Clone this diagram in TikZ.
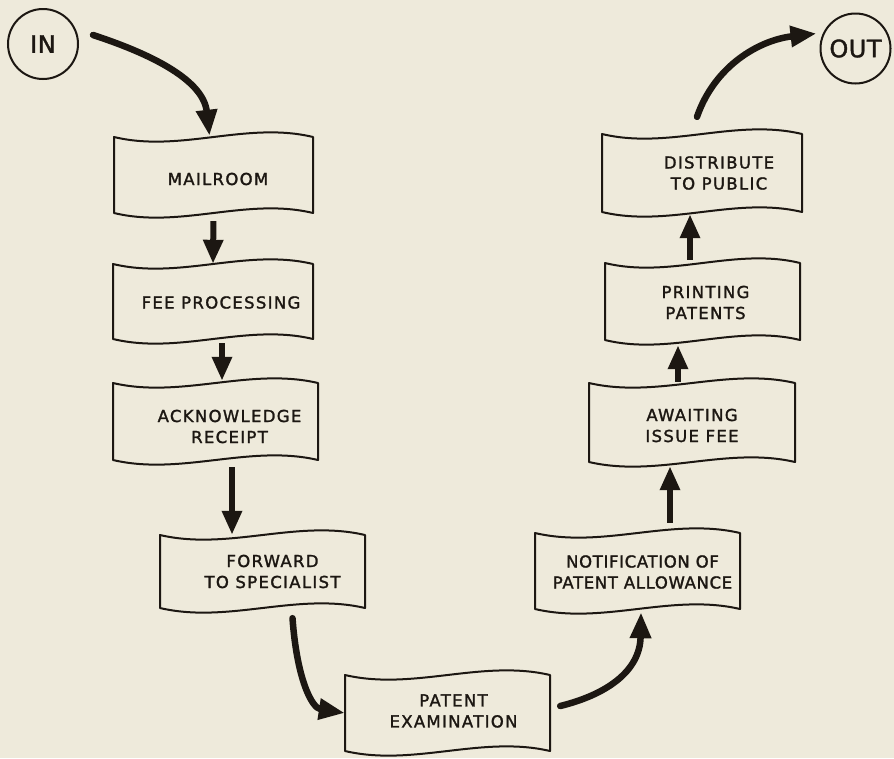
\documentclass[tikz,border=0pt]{standalone}
\usepackage{fontspec}
\setmainfont{DejaVu Sans}[LetterSpace=8,FakeBold=1.6]
\usetikzlibrary{arrows.meta,calc}
\definecolor{paper}{RGB}{238,234,219}
\definecolor{ink}{RGB}{28,23,18}
\newcommand\wbox[5]{%
  \pgfmathsetmacro\wbXa{#2+(#4-#2)/3}%
  \pgfmathsetmacro\wbXb{#2+2*(#4-#2)/3}%
  \pgfmathsetmacro\wbW{#4-#2}%
  \pgfmathsetmacro\wbH{#5-#3}%
  \draw[boxline] (#2,#3) .. controls (\wbXa,#3+16) and (\wbXb,#3-16) .. (#4,#3)
    -- (#4,#5) .. controls (\wbXb,#5-16) and (\wbXa,#5+16) .. (#2,#5) -- cycle;
  \node[boxnode, minimum width=\wbW pt, minimum height=\wbH pt] (#1) at ({(#2+#4)/2},{(#3+#5)/2}) {};
}
\begin{document}
\begin{tikzpicture}[x=1pt,y=-1pt,
  boxline/.style={draw=ink, line width=2pt, line join=round},
  boxnode/.style={rectangle, draw=none, inner sep=0pt},
  boxtext/.style={text=ink, font=\fontsize{16.5}{21}\selectfont, align=center, inner sep=0pt},
  termnode/.style={circle, draw=ink, line width=2pt, minimum size=70pt, inner sep=0pt,
    font=\fontsize{24}{28}\selectfont\addfontfeature{LetterSpace=2}, text=ink},
  flow/.style={draw=ink, line width=6pt, -{Triangle[length=24pt,width=19pt]}},
  cflow/.style={draw=ink, line width=6.5pt, line cap=round, -{Triangle[length=26pt,width=20pt]}}
]
\fill[paper] (0,0) rectangle (894,758);
\useasboundingbox (0,0) rectangle (894,758);

% terminals
\node[termnode] (in) at (43,44) {IN};
\node[termnode] (out) at (855.5,48.5) {OUT};

% boxes
\wbox{mail}{114}{137}{313}{213}
\wbox{fee}{113}{264}{313}{339}
\wbox{ack}{113}{383}{318}{460}
\wbox{fwd}{160}{535}{365}{608}
\wbox{exam}{345}{675}{550}{751}
\wbox{notif}{535}{533}{740}{609}
\wbox{await}{589}{383}{795}{462}
\wbox{print}{605}{263}{800}{340}
\wbox{dist}{602}{134}{802}{212}

% labels
\node[boxtext] (mailtxt) at ($(mail)+(4.5,4)$) {MAILROOM};
\node[boxtext] (feetxt) at ($(fee)+(8,1)$) {FEE PROCESSING};
\node[boxtext] (acktxt) at ($(ack)+(14,5)$) {ACKNOWLEDGE\\RECEIPT};
\node[boxtext] (fwdtxt) at ($(fwd)+(10,0)$) {FORWARD\\TO SPECIALIST};
\node[boxtext] (examtxt) at ($(exam)+(6,-2)$) {PATENT\\EXAMINATION};
\node[boxtext, font=\fontsize{16.5}{21}\selectfont\addfontfeature{LetterSpace=4}] (notiftxt) at ($(notif)+(5,1)$) {NOTIFICATION OF\\PATENT ALLOWANCE};
\node[boxtext] (awaittxt) at ($(await)+(0,3)$) {AWAITING\\ISSUE FEE};
\node[boxtext] (printtxt) at ($(print)+(3,1)$) {PRINTING\\PATENTS};
\node[boxtext] (disttxt) at ($(dist)+(17,0)$) {DISTRIBUTE\\TO PUBLIC};

% straight connectors
\draw[flow, shorten <=8pt] (mail.south) -- (fee.north);
\draw[flow, shorten <=4pt] ($(fee.south)+(9,0)$) -- ($(ack.north)+(6.5,-2)$);
\draw[flow, shorten <=7pt] ($(ack.south)+(16.5,0)$) -- ($(fwd.north)+(-30.5,0)$);
\draw[flow, shorten <=10pt, shorten >=4pt] ($(notif.north)+(32.5,0)$) -- ($(await.south)+(-22,0)$);
\draw[flow, shorten <=1pt, shorten >=5pt] ($(await.north)+(-14,0)$) -- ($(print.south)+(-24.5,0)$);
\draw[flow, shorten <=3pt, shorten >=2pt] ($(print.north)+(-12.5,0)$) -- ($(dist.south)+(-12,0)$);

% curved connectors
\draw[cflow] ($(in.east)+(14,-9)$) .. controls (145,52) and (203,78) .. ($(mail.north)+(-4,-1)$);
\draw[cflow] ($(fwd.south)+(30,10)$) .. controls (297,680) and (312,708) .. (exam.west);
\draw[cflow] ($(exam.east)+(10,-7)$) .. controls (605,695) and (640,672) .. ($(notif.south)+(3.5,3)$);
\draw[cflow] ($(dist.north)+(-5,-17)$) .. controls (715,65) and (760,40) .. ($(out.west)+(-3,-15)$);
\end{tikzpicture}
\end{document}
